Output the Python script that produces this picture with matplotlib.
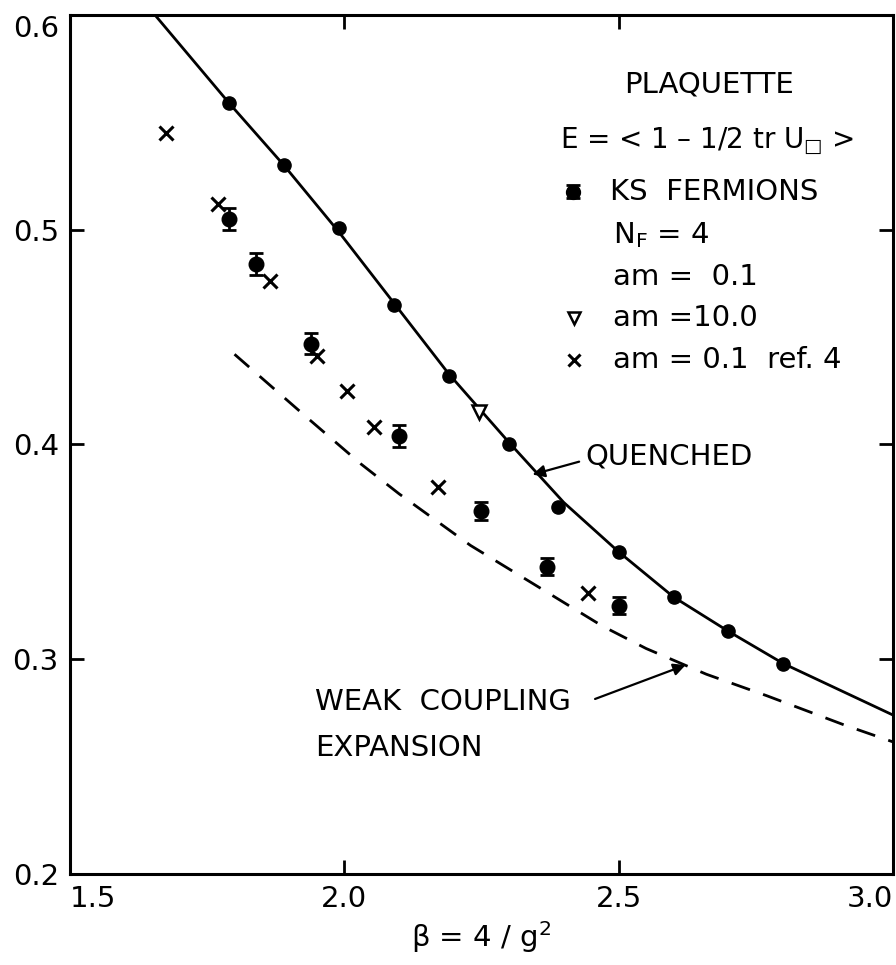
import matplotlib
matplotlib.use('Agg')
import matplotlib.pyplot as plt

# quenched plaquette (filled circles on the solid curve)
q_beta = [1.79, 1.89, 1.99, 2.09, 2.19, 2.30, 2.39, 2.50, 2.60, 2.70, 2.80]
q_E = [0.559, 0.530, 0.501, 0.465, 0.432, 0.400, 0.371, 0.350, 0.329, 0.313, 0.298]

# solid quenched curve
qc_beta = [1.655, 1.79, 1.89, 1.99, 2.09, 2.19, 2.30, 2.40, 2.50, 2.60, 2.70, 2.80, 2.90, 3.0]
qc_E = [0.600, 0.559, 0.530, 0.499, 0.466, 0.433, 0.401, 0.373, 0.350, 0.329, 0.313, 0.298, 0.286, 0.274]

# weak coupling expansion (dashed)
wc_beta = [1.80, 1.93, 2.03, 2.10, 2.23, 2.39, 2.47, 2.55, 2.66, 2.77, 2.91, 3.0]
wc_E = [0.442, 0.413, 0.391, 0.377, 0.353, 0.328, 0.3155, 0.305, 0.293, 0.283, 0.2695, 0.2615]

# KS fermions, am = 0.1
ks_beta = [1.79, 1.84, 1.94, 2.10, 2.25, 2.37, 2.50]
ks_E = [0.505, 0.484, 0.447, 0.404, 0.369, 0.343, 0.325]
ks_err = [0.005, 0.005, 0.005, 0.005, 0.004, 0.004, 0.004]

# am = 10.0
tri_beta = [2.245]
tri_E = [0.415]

# am = 0.1 ref. 4
x_beta = [1.675, 1.77, 1.865, 1.95, 2.005, 2.055, 2.17, 2.445]
x_E = [0.545, 0.512, 0.476, 0.441, 0.425, 0.408, 0.380, 0.331]

xticks = [1.5, 2.0, 2.5, 3.0]
yticks = [0.2, 0.3, 0.4, 0.5, 0.6]

fs = 21
fig = plt.figure(figsize=(8.96, 9.65), dpi=100)
ax = fig.add_axes([0.078, 0.0943, 0.9187, 0.8902])

ax.plot(qc_beta, qc_E, color='black', lw=2.0)
ax.plot(q_beta, q_E, 'o', color='black', ms=9.5)
ax.plot(wc_beta, wc_E, color='black', lw=2.0, dashes=(7, 5))
ax.errorbar(ks_beta, ks_E, yerr=ks_err, fmt='o', color='black', ms=10.5,
            capsize=5, capthick=2, elinewidth=2)
ax.plot(tri_beta, tri_E, 'v', mfc='white', mec='black', mew=1.8, ms=10)
ax.plot(x_beta, x_E, 'x', color='black', ms=9.5, mew=2.2)

ax.set_xlim(1.5, 3.0)
ax.set_ylim(0.2, 0.6)
ax.set_xticks(xticks)
ax.set_yticks(yticks)
ax.set_xticklabels(['1.5', '2.0', '2.5', '3.0'])
ax.set_yticklabels(['0.2', '0.3', '0.4', '0.5', '0.6'])
ax.tick_params(direction='in', length=10, width=2, labelsize=fs,
               top=True, right=True)
ax.tick_params(axis='x', pad=8)
ax.tick_params(axis='y', pad=8)
for s in ax.spines.values():
    s.set_linewidth(2.2)

# edge labels sit inside the frame like the original
xl = ax.get_xticklabels()
xl[0].set_ha('left')
xl[-1].set_ha('right')
yl = ax.get_yticklabels()
yl[-1].set_va('top')

ax.set_xlabel(r'$\mathregular{\beta}$ = 4 / g$^{\mathregular{2}}$', fontsize=fs, labelpad=4)

# legend block, written as text like the original
ax.text(2.664, 0.5674, 'PLAQUETTE', fontsize=fs, ha='center', va='center')
ax.text(2.394, 0.5409, 'E = < 1 – 1/2 tr U$_{□}$ >',
        fontsize=20, ha='left', va='center')
ax.errorbar([2.416], [0.5176], yerr=[0.003], fmt='o', color='black', ms=10,
            capsize=5, capthick=2, elinewidth=2)
ax.text(2.485, 0.5176, 'KS  FERMIONS', fontsize=fs, ha='left', va='center')
ax.text(2.489, 0.4976, r'N$_{\mathregular{F}}$ = 4', fontsize=fs, ha='left', va='center')
ax.text(2.489, 0.478, 'am =  0.1', fontsize=fs, ha='left', va='center')
ax.plot([2.418], [0.4589], 'v', mfc='white', mec='black', mew=1.8, ms=9)
ax.text(2.489, 0.4589, 'am =10.0', fontsize=fs, ha='left', va='center')
ax.plot([2.418], [0.4393], 'x', color='black', ms=9, mew=2.2)
ax.text(2.489, 0.4393, 'am = 0.1  ref. 4', fontsize=fs, ha='left', va='center')

ax.text(2.44, 0.3946, 'QUENCHED', fontsize=fs, ha='left', va='center')
ax.annotate('', xy=(2.343, 0.386), xytext=(2.428, 0.392),
            arrowprops=dict(arrowstyle='-|>', color='black', lw=1.6,
                            mutation_scale=18, shrinkA=0, shrinkB=0))
ax.text(1.947, 0.280, 'WEAK  COUPLING', fontsize=fs, ha='left', va='center')
ax.annotate('', xy=(2.622, 0.2973), xytext=(2.457, 0.2815),
            arrowprops=dict(arrowstyle='-|>', color='black', lw=1.6,
                            mutation_scale=18, shrinkA=0, shrinkB=0))
ax.text(1.947, 0.2587, 'EXPANSION', fontsize=fs, ha='left', va='center')

fig.savefig('out.png', dpi=100)
